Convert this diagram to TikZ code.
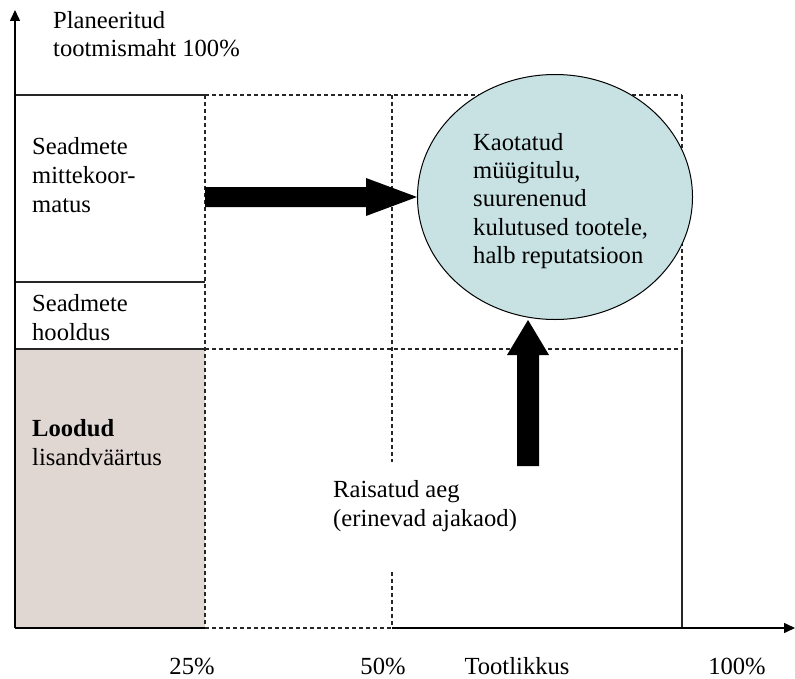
\documentclass[tikz,border=0pt]{standalone}
\usepackage{fontspec}
\setmainfont{Liberation Serif}
\usetikzlibrary{calc,arrows.meta,shapes.geometric}
\definecolor{shadebox}{RGB}{224,214,210}
\definecolor{ellfill}{RGB}{200,226,228}
\begin{document}
\begin{tikzpicture}[x=1bp,y=-1bp,
  lbl/.style={anchor=base west,inner sep=0pt,align=left,font=\fontsize{24.6bp}{28.5bp}\selectfont},
  pct/.style={anchor=base,inner sep=0pt,font=\fontsize{24.6bp}{28bp}\selectfont},
  solidln/.style={line width=1.4bp,draw=black!85},
  dashln/.style={line width=1.1bp,draw=black!85,dash pattern=on 4bp off 3bp},
  axis/.style={line width=1.5bp,draw=black,-{Triangle[length=11bp,width=10bp]}},
  fatarrow/.style={fill=black}]
\useasboundingbox (0,0) rectangle (795,679);
% shaded box
\fill[shadebox] (15,349) rectangle (205,628);
% grid lines
\draw[solidln] (15,95) -- (205,95);
\draw[dashln] (205,95) -- (682,95);
\draw[solidln] (15,282) -- (205,282);
\draw[solidln] (15,349) -- (205,349);
\draw[dashln] (205,349) -- (682,349);
\draw[dashln] (205,95) -- (205,628);
\draw[dashln] (392,95) -- (392,462);
\draw[dashln] (392,572) -- (392,628);
\draw[dashln] (682,95) -- (682,349);
\draw[solidln] (682,349) -- (682,628);
\draw[dashln] (205,628) -- (392,628);
% axes
\coordinate (origin) at (15,628);
\coordinate (ytip) at (15,10);
\coordinate (xtip) at (795,628);
\draw[axis] (origin) -- (ytip);
\draw[line width=1.5bp] (origin) -- (205,628);
\draw[axis] (392,628) -- (xtip);
% ellipse
\node[ellipse,draw,line width=1bp,fill=ellfill,minimum width=275bp,minimum height=245bp,inner sep=0pt] (ell) at (555,197) {};
\node[anchor=west,inner sep=0pt,align=left,font=\fontsize{24.6bp}{28.3bp}\selectfont] (elltext) at (473,201)
  {Kaotatud\\müügitulu,\\suurenenud\\kulutused tootele,\\halb reputatsioon};
% texts
\node[lbl] (ylab) at (53,57) {Planeeritud\\tootmismaht 100\%};
\node[lbl] (unload) at (32,212) {Seadmete\\mittekoor-\\matus};
\node[lbl] (maint) at (32,340) {Seadmete\\hooldus};
\node[lbl] (value) at (32,465) {\textbf{Loodud}\\lisandväärtus};
\node[lbl] (waste) at (333,526) {Raisatud aeg\\(erinevad ajakaod)};
\node[pct] (p25) at (192,674) {25\%};
\node[pct] (p50) at (383,674) {50\%};
\node[pct] (xlab) at (517,674) {Tootlikkus};
\node[pct] (p100) at (737,674) {100\%};
% fat arrows
\coordinate (hs) at (205,197);
\fill[fatarrow] ($(hs)+(0,-10)$) -- ($(ell.west)+(-51,-10)$) -- ($(ell.west)+(-51,-19)$) -- (ell.west)
  -- ($(ell.west)+(-51,19)$) -- ($(ell.west)+(-51,10)$) -- ($(hs)+(0,10)$) -- cycle;
\coordinate (vs) at (528,466);
\coordinate (vt) at (vs |- ell.south);
\fill[fatarrow] ($(vs)+(-11,0)$) -- ($(vt)+(-11,35)$) -- ($(vt)+(-21,35)$) -- (vt)
  -- ($(vt)+(21,35)$) -- ($(vt)+(11,35)$) -- ($(vs)+(11,0)$) -- cycle;
\end{tikzpicture}
\end{document}
